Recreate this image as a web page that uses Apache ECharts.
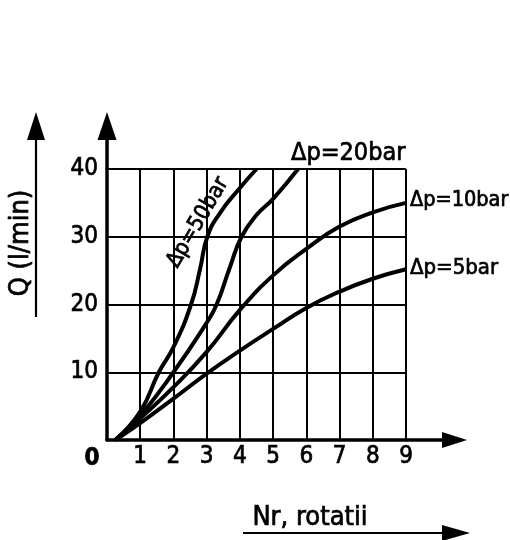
<!DOCTYPE html>
<html><head><meta charset="utf-8">
<script src="https://cdn.jsdelivr.net/npm/echarts@6/dist/echarts.min.js"></script>
<style>html,body{margin:0;padding:0;background:#fff}#c{width:510px;height:540px}</style>
</head><body><div id="c"></div>
<script>
// ---- data ----
const xTicks = [1, 2, 3, 4, 5, 6, 7, 8, 9];
const yTicks = [10, 20, 30, 40];
const seriesNames = ['Δp=50bar', 'Δp=20bar', 'Δp=10bar', 'Δp=5bar'];
const dp50 = [[0.25,0],[1,4.2],[1.56,10],[2,13.7],[2.53,20],[2.8,25.2],[3.02,30],[3.4,33.5],[4,37.2],[4.5,40]];
const dp20 = [[0.25,0],[1,3.6],[2,10],[3,17.3],[3.3,20],[3.7,25.5],[4.05,30],[4.5,33.2],[5,35.6],[5.75,40]];
const dp10 = [[0.25,0],[1,3.2],[2,7.8],[3,13],[4,19.2],[5,24.3],[6,28.2],[7,31.5],[8,33.6],[9,35]];
const dp5  = [[0.25,0],[1,2.5],[2,6.1],[3,9.8],[4,13.2],[5,16.4],[6,19.5],[7,21.9],[8,23.8],[9,25.2]];
const xTitle = 'Nr, rotatii';
const yTitle = 'Q (l/min)';

const FONT = "'DejaVu Sans Condensed','DejaVu Sans',sans-serif";
const chart = echarts.init(document.getElementById('c'), null, {renderer: 'canvas'});

function mkLine(name, data) {
  return {
    name, type: 'line', data, smooth: 0.5, symbol: 'none',
    lineStyle: {color: '#000', width: 4}, z: 5
  };
}

chart.setOption({
  backgroundColor: '#fff',
  animation: false,
  grid: {left: 107, right: 104, top: 169, bottom: 100},
  xAxis: {
    type: 'value', min: 0, max: 9, interval: 1,
    axisLine: {lineStyle: {color: '#000', width: 3.5}},
    axisTick: {show: false},
    splitLine: {lineStyle: {color: '#000', width: 2}},
    axisLabel: {
      color: '#000', fontSize: 24, fontFamily: FONT, margin: 5,
      textBorderColor: '#000', textBorderWidth: 0.7,
      formatter: v => xTicks.includes(v) ? String(v) : ''
    }
  },
  yAxis: {
    type: 'value', min: 0, max: 40, interval: 10,
    axisLine: {show: true, lineStyle: {color: '#000', width: 3.5}},
    axisTick: {show: false},
    splitLine: {lineStyle: {color: '#000', width: 2}},
    axisLabel: {
      color: '#000', fontSize: 24, fontFamily: FONT, margin: 9,
      textBorderColor: '#000', textBorderWidth: 0.7,
      formatter: v => yTicks.includes(v) ? String(v) : ''
    }
  },
  series: [mkLine(seriesNames[0], dp50), mkLine(seriesNames[1], dp20), mkLine(seriesNames[2], dp10), mkLine(seriesNames[3], dp5)]
});

const P = (x, y) => chart.convertToPixel({gridIndex: 0}, [x, y]);
const o = P(0, 0), yTop = P(0, 40), xEnd = P(9, 0);
const e20 = P(dp20[dp20.length-1][0], dp20[dp20.length-1][1]);
const e10 = P(dp10[dp10.length-1][0], dp10[dp10.length-1][1]);
const e5 = P(dp5[dp5.length-1][0], dp5[dp5.length-1][1]);
const a50 = P(dp50[7][0], dp50[7][1]);

function T(text, x, y, size, opts) {
  opts = opts || {};
  return {
    type: 'text', x, y, z: 10, rotation: opts.rotation || 0,
    style: {
      text, fill: '#000', font: (opts.weight || 'normal') + ' ' + size + 'px ' + FONT,
      textAlign: opts.align || 'left', textVerticalAlign: 'middle',
      stroke: '#000', lineWidth: opts.lw == null ? 0.7 : opts.lw
    }
  };
}

const graphics = [
  // y axis extension + arrow
  {type: 'line', shape: {x1: o[0], y1: yTop[1], x2: o[0], y2: yTop[1] - 32}, style: {stroke: '#000', lineWidth: 3.5}},
  {type: 'polygon', shape: {points: [[o[0]-9.5, yTop[1]-29], [o[0], yTop[1]-57], [o[0]+9.5, yTop[1]-29]]}, style: {fill: '#000'}},
  // x axis extension + arrow
  {type: 'line', shape: {x1: xEnd[0], y1: o[1], x2: xEnd[0] + 40, y2: o[1]}, style: {stroke: '#000', lineWidth: 3.5}},
  {type: 'polygon', shape: {points: [[xEnd[0]+36, o[1]-8], [xEnd[0]+61, o[1]], [xEnd[0]+36, o[1]+8]]}, style: {fill: '#000'}},
  // left arrow with title
  {type: 'line', shape: {x1: 36, y1: 317, x2: 36, y2: 136}, style: {stroke: '#000', lineWidth: 2.2}},
  {type: 'polygon', shape: {points: [[27, 140], [36, 112], [45, 140]]}, style: {fill: '#000'}},
  T(yTitle, 21, 243, 27, {rotation: Math.PI / 2, align: 'center'}),
  // bottom arrow with title
  {type: 'line', shape: {x1: 243, y1: 533, x2: 446, y2: 533}, style: {stroke: '#000', lineWidth: 2.2}},
  {type: 'polygon', shape: {points: [[442, 525], [470, 533], [442, 541]]}, style: {fill: '#000'}},
  T(xTitle, 310, 518, 27, {align: 'center'}),
  // origin label
  T('0', o[0] - 15, o[1] + 19, 24, {weight: 'bold', align: 'center'}),
  // curve labels
  T(seriesNames[1], e20[0] - 7, e20[1] - 16, 25),
  T(seriesNames[2], e10[0] + 4, e10[1] - 2, 21.5),
  T(seriesNames[3], e5[0] + 4, e5[1] - 1, 22),
  T(seriesNames[0], a50[0] - 22, a50[1] + 9.5, 22, {rotation: 59.5 * Math.PI / 180, align: 'center'})
];
chart.setOption({graphic: graphics});
</script>
</body></html>
